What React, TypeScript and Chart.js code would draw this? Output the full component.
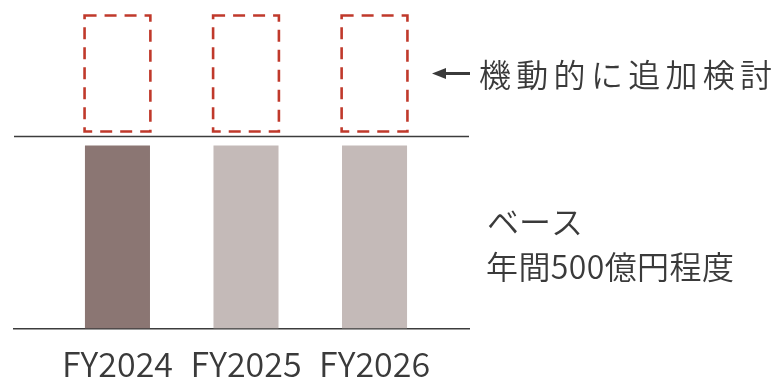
import React, { useEffect, useRef } from 'react';
import { Chart, registerables } from 'chart.js';

Chart.register(...registerables);

const categories = ['FY2024', 'FY2025', 'FY2026'];
const baseValues = [500, 500, 500];
const additionalRanges: [number, number][] = [
  [538, 855],
  [538, 855],
  [538, 855],
];
const separatorValue = 527;
const upperNote = '機動的に追加検討';
const baseNoteLines = ['ベース', '年間500億円程度'];
const baseColors = ['#8b7673', '#c4bab8', '#c4bab8'];

const FONT = '"Noto Sans CJK JP", "Noto Sans", sans-serif';
const WEIGHT = 350;
const TEXT = '#3a3a3a';
const LINE = '#3c3c3c';
const DASH = '#c0392b';

const overlayPlugin = {
  id: 'overlay',
  afterDatasetsDraw(chart: any) {
    const { ctx, chartArea, scales } = chart;
    const yScale = scales.y;
    const meta = chart.getDatasetMeta(1);
    ctx.save();
    // dashed boxes
    ctx.setLineDash([12, 8]);
    ctx.lineWidth = 2.6;
    ctx.strokeStyle = DASH;
    meta.data.forEach((el: any) => {
      const { x, y, base, width } = el.getProps(['x', 'y', 'base', 'width'], true);
      ctx.strokeRect(x - width / 2, y, width, base - y);
    });
    ctx.setLineDash([]);
    // separator line
    const sy = Math.round(yScale.getPixelForValue(separatorValue)) + 0.5;
    ctx.strokeStyle = LINE;
    ctx.lineWidth = 1.5;
    ctx.beginPath();
    ctx.moveTo(chartArea.left, sy);
    ctx.lineTo(chartArea.right, sy);
    ctx.stroke();

    // upper note with arrow
    const r = additionalRanges[0];
    const uy = yScale.getPixelForValue((r[0] + r[1]) / 2);
    const tip = chartArea.right - 37;
    ctx.fillStyle = TEXT;
    ctx.beginPath();
    ctx.moveTo(tip, uy);
    ctx.lineTo(tip + 14, uy - 5.5);
    ctx.lineTo(tip + 14, uy + 5.5);
    ctx.closePath();
    ctx.fill();
    ctx.fillRect(tip + 12, uy - 1.5, chartArea.right + 1 - (tip + 12), 3);

    ctx.textBaseline = 'middle';
    ctx.textAlign = 'left';
    ctx.font = `${WEIGHT} 32px ${FONT}`;
    (ctx as any).letterSpacing = '5.3px';
    ctx.fillText(upperNote, chartArea.right + 10, uy + 1);

    // base note
    const by = yScale.getPixelForValue(baseValues[0] / 2);
    ctx.font = `${WEIGHT} 32px ${FONT}`;
    (ctx as any).letterSpacing = '0px';
    ctx.fillText(baseNoteLines[0], chartArea.right + 18, by - 15);
    (ctx as any).letterSpacing = '0.4px';
    ctx.fillText(baseNoteLines[1], chartArea.right + 17, by + 30);
    (ctx as any).letterSpacing = '0px';
    ctx.restore();
  },
};

export default function App() {
  const ref = useRef<HTMLCanvasElement>(null);
  useEffect(() => {
    const canvas = ref.current;
    if (!canvas) return;
    const chart = new Chart(canvas, {
      type: 'bar',
      data: {
        datasets: [
          {
            data: baseValues.map((v, i) => ({ x: i, y: v })),
            backgroundColor: baseColors,
            borderWidth: 0,
            grouped: false,
            barPercentage: 0.506,
            categoryPercentage: 1,
          } as any,
          {
            data: additionalRanges.map((v, i) => ({ x: i, y: v })),
            backgroundColor: 'rgba(0,0,0,0)',
            borderWidth: 0,
            grouped: false,
            barPercentage: 0.512,
            categoryPercentage: 1,
          } as any,
        ],
      },
      options: {
        animation: false,
        responsive: false,
        maintainAspectRatio: false,
        layout: { padding: { left: 14, right: 307, top: 10, bottom: 0 } },
        plugins: { legend: { display: false }, tooltip: { enabled: false } },
        scales: {
          x: {
            type: 'linear',
            offset: false,
            min: -0.805,
            max: 2.735,
            grid: { display: false, drawTicks: false },
            border: { display: true, color: LINE, width: 1.5 },
            afterBuildTicks: (axis: any) => {
              axis.ticks = categories.map((_, i) => ({ value: i }));
            },
            ticks: {
              padding: 15.4,
              autoSkip: false,
              maxRotation: 0,
              color: TEXT,
              font: { family: FONT, size: 34, weight: WEIGHT },
              callback: (v: any) => categories[v as number] ?? '',
            },
          },
          y: {
            display: false,
            min: 0,
            max: 870,
          },
        },
      },
      plugins: [overlayPlugin],
    } as any);
    return () => chart.destroy();
  }, []);
  return (
    <div
      style={{
        position: 'fixed',
        left: 0,
        top: 0,
        width: 776,
        height: 378,
        overflow: 'hidden',
        background: '#fff',
      }}
    >
      <canvas ref={ref} width={776} height={400} style={{ display: 'block' }} />
    </div>
  );
}
